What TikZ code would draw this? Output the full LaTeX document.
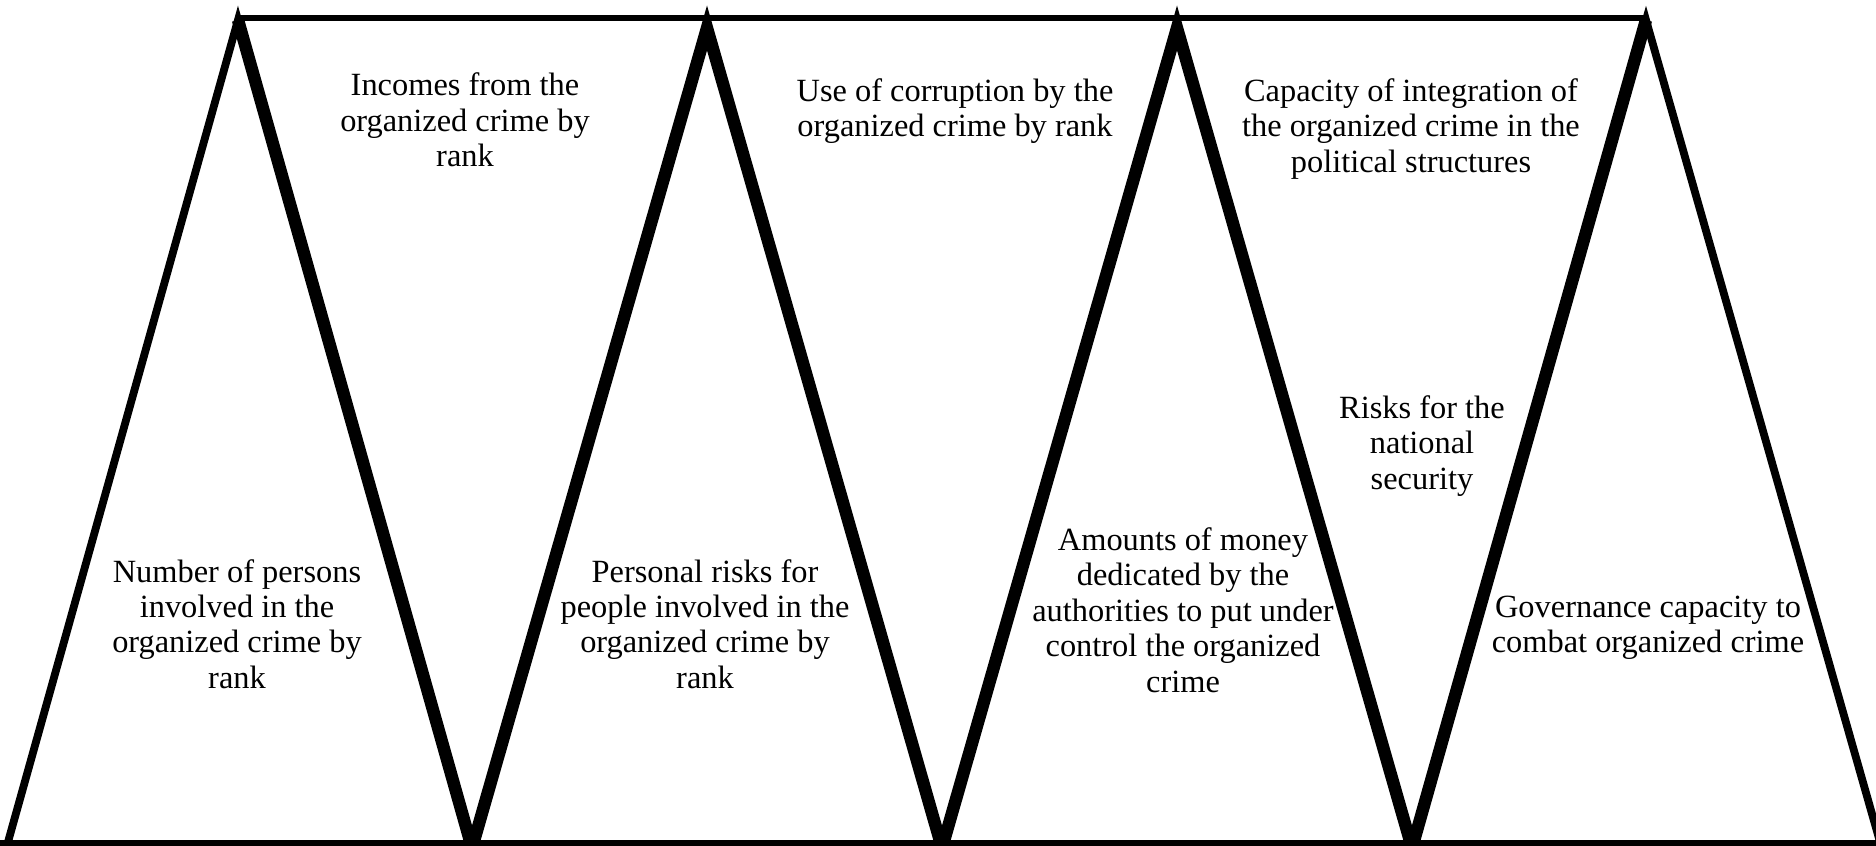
\documentclass[tikz,border=0pt]{standalone}
\usepackage{fontspec}
\setmainfont{Liberation Serif}
\begin{document}
\begin{tikzpicture}[x=0.5pt,y=-0.5pt,
  lbl/.style={align=center, font=\fontsize{16.2}{17.7}\selectfont, inner sep=0pt},
  outeredge/.style={line width=3.9pt, line join=miter, line cap=butt},
  inneredge/.style={line width=6.2pt, line join=miter, line cap=butt},
  rail/.style={line width=3pt, line cap=butt}]
\useasboundingbox (0,0) rectangle (1876,846);
% outer apex vertices
\coordinate (A1) at (238,20);
\coordinate (A4) at (1646,20);
% inner apex vertices
\coordinate (A2) at (707,28);
\coordinate (A3) at (1177,28);
% bottom vertices
\coordinate (B0) at (8,842);
\coordinate (B1) at (472,848);
\coordinate (B2) at (942,848);
\coordinate (B3) at (1412,848);
\coordinate (B4) at (1880,842);
\coordinate (b1) at (472,842);
\coordinate (b3) at (1412,842);
% rails
\coordinate (T1) at (238,18);
\coordinate (T4) at (1646,18);
\coordinate (L) at (0,842.5);
\coordinate (R) at (1876,842.5);

\draw[rail] (T1) -- (T4);
\draw[outeredge] (B0) -- (A1) -- (b1);
\draw[outeredge] (b3) -- (A4) -- (B4);
\draw[inneredge] (A1) -- (B1) -- (A2) -- (B2) -- (A3) -- (B3) -- (A4);
\draw[rail] (L) -- (R);

\node[lbl] (n1) at (237,624) {Number of persons\\involved in the\\organized crime by\\rank};
\node[lbl] (n2) at (465,120) {Incomes from the\\organized crime by\\rank};
\node[lbl] (n3) at (705,624) {Personal risks for\\people involved in the\\organized crime by\\rank};
\node[lbl] (n4) at (955,111) {Use of corruption by the\\organized crime by rank};
\node[lbl] (n5) at (1183,610) {Amounts of money\\dedicated by the\\authorities to put under\\control the organized\\crime};
\node[lbl] (n6) at (1411,129) {Capacity of integration of\\the organized crime in the\\political structures};
\node[lbl] (n7) at (1422,446) {Risks for the\\national\\security};
\node[lbl] (n8) at (1648,628) {Governance capacity to\\combat organized crime};
\end{tikzpicture}
\end{document}
